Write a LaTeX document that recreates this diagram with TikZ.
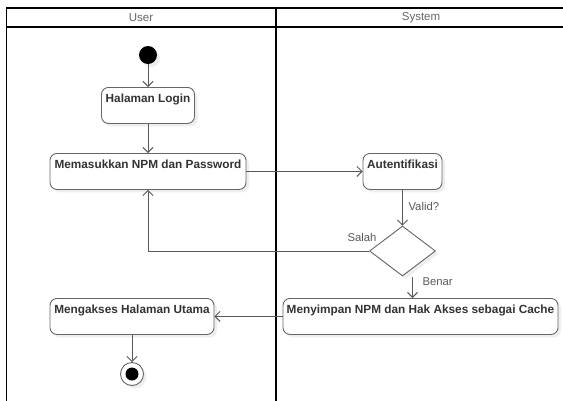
\documentclass[tikz,border=0pt]{standalone}
\usepackage{fontspec}
\setmainfont{Liberation Sans}
\usetikzlibrary{arrows.meta,shapes.geometric,shadows,calc}

\definecolor{lineclr}{HTML}{595959}
\definecolor{boxclr}{HTML}{666666}
\definecolor{txtclr}{HTML}{333333}
\definecolor{lblclr}{HTML}{5A5A5A}

\tikzset{
  softshadow/.style={drop shadow={opacity=0.13, shadow xshift=3pt, shadow yshift=-3pt}},
  actbox/.style={draw=boxclr, line width=0.9pt, rounded corners=7pt, fill=white, softshadow,
    anchor=north, inner xsep=3pt, inner ysep=7pt, text height=8.5pt, text depth=13.5pt,
    text=txtclr, font=\fontsize{11.8}{14}\selectfont\bfseries},
  decision/.style={draw=boxclr, line width=0.9pt, diamond, fill=white, softshadow,
    inner sep=0pt, minimum width=66pt, minimum height=50pt},
  startdot/.style={circle, fill=black, minimum size=18pt, inner sep=0pt, softshadow},
  enddot/.style={circle, draw=boxclr, line width=0.9pt, fill=white, minimum size=23pt, inner sep=0pt, softshadow,
    path picture={\fill[black] (path picture bounding box.center) circle (6.5pt);}},
  flow/.style={draw=lineclr, line width=0.9pt, -{Straight Barb[length=5pt,width=10pt,line width=0.9pt]}},
  guard/.style={text=lblclr, font=\fontsize{11.3}{13}\selectfont},
  lanehead/.style={text=boxclr, font=\fontsize{11.5}{13}\selectfont},
  lane/.style={draw=black, line width=1.6pt}
}

\begin{document}
\begin{tikzpicture}[x=1pt, y=-1pt]
  \clip (0,0) rectangle (563,400);
  \fill[white] (0,0) rectangle (563,400);

  % swimlanes
  \draw[lane] (6.5,8) rectangle (276,402);
  \draw[lane] (276,8) rectangle (566,402);
  \draw[lane] (6.5,27) -- (566,27);
  \node[lanehead] (hUser) at (141,17.5) {User};
  \node[lanehead] (hSys) at (421,17.5) {System};

  % activities
  \node[startdot] (start) at (148,55) {};
  \node[actbox, minimum width=93pt] (login) at (148,87) {Halaman Login};
  \node[actbox, minimum width=196pt] (input) at (148,153) {Memasukkan NPM dan Password};
  \node[actbox, minimum width=79pt] (auth) at (402.5,153) {Autentifikasi};
  \node[decision] (valid) at (402.5,251) {};
  \node[actbox, minimum width=275pt] (cache) at (420.5,298) {Menyimpan NPM dan Hak Akses sebagai Cache};
  \node[actbox, minimum width=164pt] (home) at (132,298) {Mengakses Halaman Utama};
  \node[enddot] (finish) at (132,374) {};

  % control flow
  \draw[flow] (start) -- (login);
  \draw[flow] (login) -- (input);
  \draw[flow] (input.east) -- (auth.west);
  \draw[flow] (auth) -- (valid.north);
  \draw[flow] (valid.west) -| (input.south);
  \coordinate (benarStart) at ($(valid.south)+(10,1)$);
  \draw[flow] (benarStart) -- (benarStart |- cache.north);
  \draw[flow] (cache.west) -- (home.east);
  \draw[flow] (home) -- (finish);

  % guard labels
  \node[guard, anchor=west] (lValid) at (405,206) {Valid?};
  \node[guard] (lSalah) at (362,237) {Salah};
  \node[guard, anchor=west] (lBenar) at (419,282) {Benar};
\end{tikzpicture}
\end{document}
